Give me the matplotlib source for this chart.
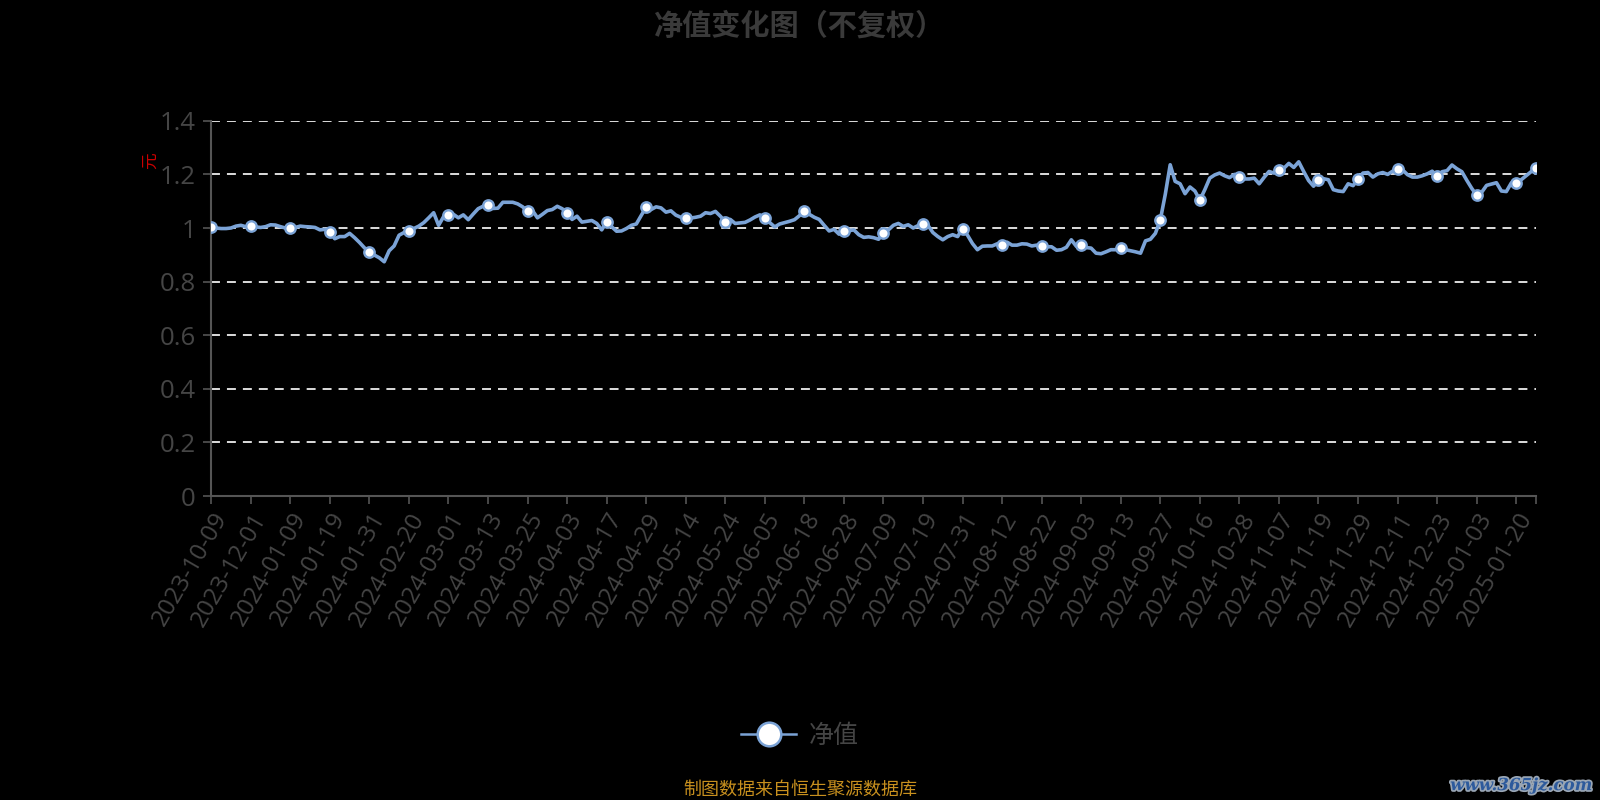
import numpy as np
import matplotlib
matplotlib.use("Agg")
import matplotlib.pyplot as plt
from matplotlib.lines import Line2D
import matplotlib.patheffects as pe

plt.rcParams['font.family'] = ['Noto Sans CJK SC', 'DejaVu Sans']

# unit NAV, one value per trading day
nav = [
    1.005, 1.0, 0.998, 0.998, 1.0, 1.007, 1.01, 1.005, 1.007,
    1.004, 1.002, 1.005, 1.012, 1.011, 1.005, 1.0, 1.0,
    1.002, 1.007, 1.005, 1.004, 1.002, 0.993, 0.995, 0.985,
    0.960, 0.968, 0.968, 0.980, 0.964, 0.946, 0.926, 0.911,
    0.899, 0.889, 0.874, 0.915, 0.933, 0.973, 0.983, 0.989,
    0.998, 1.007, 1.02, 1.038, 1.057, 1.01, 1.042, 1.047,
    1.051, 1.038, 1.049, 1.031, 1.052, 1.072, 1.081, 1.084,
    1.073, 1.074, 1.096, 1.096, 1.096, 1.090, 1.079, 1.062,
    1.065, 1.038, 1.051, 1.065, 1.069, 1.081, 1.072, 1.056,
    1.032, 1.044, 1.022, 1.025, 1.028, 1.017, 0.993, 1.023,
    1.005, 0.988, 0.989, 0.998, 1.01, 1.015, 1.047, 1.078,
    1.069, 1.079, 1.075, 1.059, 1.064, 1.048, 1.040, 1.037,
    1.037, 1.040, 1.044, 1.057, 1.054, 1.062, 1.044, 1.023,
    1.032, 1.017, 1.019, 1.021, 1.030, 1.041, 1.049, 1.038,
    1.02, 1.004, 1.015, 1.02, 1.025, 1.031, 1.046, 1.064,
    1.051, 1.040, 1.032, 1.01, 0.989, 0.995, 0.977, 0.988,
    0.990, 0.993, 0.975, 0.965, 0.967, 0.964, 0.958, 0.980,
    0.993, 1.01, 1.017, 1.006, 1.012, 1.0, 1.009, 1.014,
    1.01, 0.983, 0.968, 0.956, 0.968, 0.975, 0.968, 0.998,
    0.973, 0.942, 0.919, 0.932, 0.933, 0.933, 0.941, 0.938,
    0.947, 0.936, 0.936, 0.941, 0.940, 0.933, 0.936, 0.931,
    0.930, 0.930, 0.917, 0.919, 0.928, 0.956, 0.932, 0.936,
    0.927, 0.925, 0.906, 0.904, 0.911, 0.919, 0.919, 0.926,
    0.919, 0.915, 0.911, 0.906, 0.952, 0.958, 0.980, 1.030,
    1.125, 1.236, 1.174, 1.165, 1.128, 1.153, 1.138, 1.104,
    1.143, 1.186, 1.198, 1.205, 1.195, 1.188, 1.200, 1.190,
    1.183, 1.183, 1.186, 1.165, 1.189, 1.211, 1.205, 1.215,
    1.223, 1.241, 1.226, 1.247, 1.211, 1.177, 1.156, 1.178,
    1.184, 1.180, 1.143, 1.138, 1.136, 1.165, 1.158, 1.183,
    1.205, 1.207, 1.190, 1.202, 1.207, 1.2, 1.212, 1.222,
    1.217, 1.199, 1.190, 1.190, 1.195, 1.202, 1.212, 1.193,
    1.210, 1.214, 1.235, 1.221, 1.210, 1.178, 1.148, 1.122,
    1.133, 1.159, 1.164, 1.169, 1.138, 1.136, 1.168, 1.169,
    1.180, 1.195, 1.210, 1.223,
]

tick_labels = [
    '2023-10-09', '2023-12-01', '2024-01-09', '2024-01-19', '2024-01-31',
    '2024-02-20', '2024-03-01', '2024-03-13', '2024-03-25', '2024-04-03',
    '2024-04-17', '2024-04-29', '2024-05-14', '2024-05-24', '2024-06-05',
    '2024-06-18', '2024-06-28', '2024-07-09', '2024-07-19', '2024-07-31',
    '2024-08-12', '2024-08-22', '2024-09-03', '2024-09-13', '2024-09-27',
    '2024-10-16', '2024-10-28', '2024-11-07', '2024-11-19', '2024-11-29',
    '2024-12-11', '2024-12-23', '2025-01-03', '2025-01-20',
]
label_step = 8
y_ticks = [0, 0.2, 0.4, 0.6, 0.8, 1, 1.2, 1.4]
y_tick_labels = ['0', '0.2', '0.4', '0.6', '0.8', '1', '1.2', '1.4']

line_color = '#7ba3d6'
text_gray = '#454545'
axis_gray = '#555555'
num_font = ['Open Sans', 'DejaVu Sans']

fig = plt.figure(figsize=(16, 8), dpi=100, facecolor='black')
ax = fig.add_axes([0.132, 0.38, 0.828, 0.469])
ax.set_facecolor('black')

x = np.arange(len(nav))
marks = list(range(0, len(nav), label_step)) + [len(nav) - 1]
ax.plot(x, nav, color=line_color, lw=2.6, solid_joinstyle='round',
        marker='o', markevery=marks, markersize=7.5,
        markerfacecolor='white', markeredgecolor=line_color,
        markeredgewidth=1.7, zorder=3)

ax.set_xlim(0, len(nav) - 1)
ax.set_ylim(0, 1.4)

for yv in y_ticks[1:]:
    ax.axhline(yv, color='#dddddd', lw=1.4, ls=(0, (4.6, 3.6)), zorder=1)

tick_pos = list(range(0, len(tick_labels) * label_step, label_step)) + [len(nav) - 1]
ax.set_xticks(tick_pos)
ax.set_xticklabels(tick_labels + [''], rotation=60, ha='right',
                   rotation_mode='anchor', fontsize=17.5, color=text_gray,
                   family=num_font)
ax.set_yticks(y_ticks)
ax.set_yticklabels(y_tick_labels, fontsize=18.5, color=text_gray, family=num_font)
ax.tick_params(axis='x', length=6, width=1.2, color=axis_gray, pad=3)
ax.tick_params(axis='y', length=6, width=1.2, color=axis_gray, pad=5)

for side in ['top', 'right']:
    ax.spines[side].set_visible(False)
for side in ['left', 'bottom']:
    ax.spines[side].set_color(axis_gray)
    ax.spines[side].set_linewidth(1.5)

ax.text(-0.046, 0.895, '元', transform=ax.transAxes, rotation=90,
        color='#cc0000', fontsize=12, ha='center', va='center')

fig.text(0.5, 0.968, '净值变化图（不复权）', ha='center', va='center',
         fontsize=21, fontweight='bold', color='#3a3a3a')

handle = Line2D([0], [0], color=line_color, lw=1.8, marker='o', markersize=17,
                markerfacecolor='white', markeredgecolor=line_color,
                markeredgewidth=1.8)
leg = fig.legend([handle], ['净值'], loc='center', bbox_to_anchor=(0.5, 0.08),
                 frameon=False, fontsize=18, handlelength=2.2,
                 handletextpad=0.5)
for t in leg.get_texts():
    t.set_color(text_gray)

fig.text(0.5, 0.013, '制图数据来自恒生聚源数据库', ha='center', va='center',
         fontsize=13, color='#c8901e')

wm = fig.text(0.995, 0.018, 'www.365jz.com', ha='right', va='center',
              fontsize=12, color='#2d5a9c', fontweight='bold', style='italic',
              family='DejaVu Serif')
wm.set_path_effects([pe.withStroke(linewidth=2.5, foreground='#9aa6b4')])

fig.savefig('out.png', dpi=100, facecolor='black')
